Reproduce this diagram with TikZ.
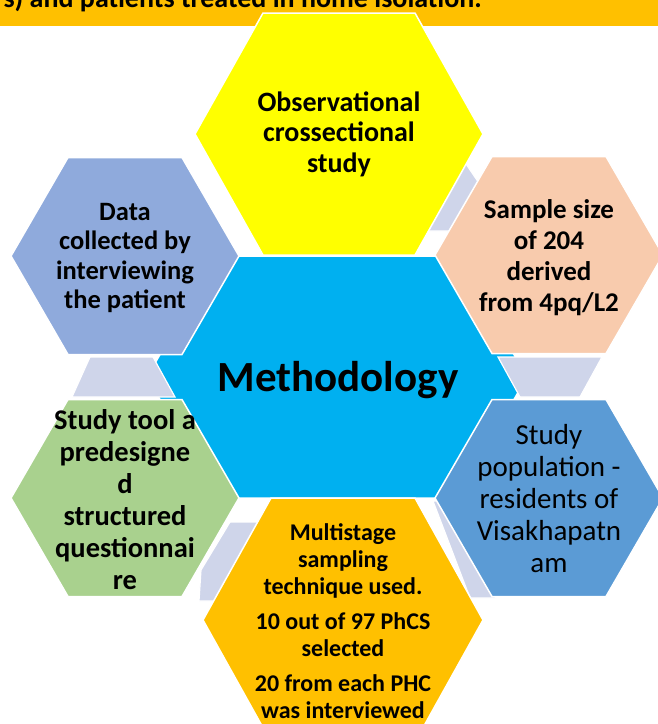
\documentclass[tikz,border=0pt]{standalone}
\usepackage{fontspec}
\setmainfont{Carlito}
\usetikzlibrary{calc}
\definecolor{hexYellow}{HTML}{FFFF00}
\definecolor{hexPeach}{HTML}{F8CBAD}
\definecolor{hexBlue}{HTML}{5B9BD5}
\definecolor{hexOrange}{HTML}{FFC000}
\definecolor{hexGreen}{HTML}{A9D18E}
\definecolor{hexGrey}{HTML}{8FAADC}
\definecolor{hexCyan}{HTML}{00B0F0}
\definecolor{linkLav}{HTML}{CFD5EA}

\begin{document}
\begin{tikzpicture}[x=1pt, y=-1pt,
    hexa/.style={draw=white, line width=1.5pt},
    link/.style={fill=linkLav, draw=white, line width=1.2pt},
    lbl/.style={align=center, inner sep=0pt, font=\bfseries\fontsize{27}{31}\selectfont}]
  \useasboundingbox (0,0) rectangle (658,724);
  \clip (0,0) rectangle (658,724);

  % centres of the hexagons
  \coordinate (M) at (337,377);
  \coordinate (O) at (339,134);
  \coordinate (B) at (343,620);
  \coordinate (D) at (125,256);
  \coordinate (T) at (125,498);
  \coordinate (S) at (549,255);
  \coordinate (P) at (549,498);

  % banner left over from the slide above
  \fill[hexOrange] (0,0) rectangle (658,26);
  \node[anchor=base east, inner sep=0pt, font=\bfseries\fontsize{28}{30}\selectfont] (head) at (482,7.5) {s) and patients treated in home isolation.};

  % central hexagon
  \filldraw[hexa, fill=hexCyan] (M) ++(-190,0) -- ++(70,-121) -- ++(240,0) -- ++(70,121) -- ++(-70,121) -- ++(-240,0) -- cycle;

  % connectors between the outer hexagons
  \filldraw[link] (464,161) -- (481,186) -- (452,231) -- (424,231) -- cycle;
  \filldraw[link] (498,357) -- (602,357) -- (580,397) -- (520,397) -- cycle;
  \filldraw[link] (90,357) -- (153,357) -- (175,397) -- (72,397) -- cycle;
  \filldraw[link] (230,522) -- (262,522) -- (217,601) -- (199,601) -- (201,570) -- cycle;
  \filldraw[link] (433,501) -- (447,501) -- (496,598) -- (470,598) -- cycle;

  % outer hexagons
  \filldraw[hexa, fill=hexYellow] (O) ++(-144,0) -- ++(68,-121) -- ++(152,0) -- ++(68,121) -- ++(-68,121) -- ++(-152,0) -- cycle;
  \filldraw[hexa, fill=hexOrange] (B) ++(-140,0) -- ++(68,-122) -- ++(144,0) -- ++(68,122) -- ++(-68,122) -- ++(-144,0) -- cycle;
  \foreach \c/\col in {D/hexGrey, T/hexGreen, S/hexPeach, P/hexBlue}
    \filldraw[hexa, fill=\col] (\c) ++(-114,0) -- ++(57,-98.5) -- ++(114,0) -- ++(57,98.5) -- ++(-57,98.5) -- ++(-114,0) -- cycle;

  % texts
  \node[lbl, font=\bfseries\fontsize{28}{30.5}\selectfont] (obs) at (O) {Observational\\crossectional\\study};
  \node[lbl] (smp) at ($(S)+(0,3)$) {Sample size\\of 204\\derived\\from 4pq/L2};
  \node[lbl, font=\bfseries\fontsize{26.5}{29.5}\selectfont] (dat) at ($(D)+(0,2)$) {Data\\collected by\\interviewing\\the patient};
  \node[lbl, font=\bfseries\fontsize{28.5}{32}\selectfont] (tool) at ($(T)+(0,2)$) {Study tool a\\predesigne\\d\\structured\\questionnai\\re};
  \node[lbl, font=\fontsize{29}{32}\selectfont] (pop) at ($(P)+(0,1)$) {Study\\population -\\residents of\\Visakhapatn\\am};
  \node[lbl, font=\bfseries\fontsize{43}{50}\selectfont] (meth) at ($(M)+(1,3)$) {Methodology};
  \node[lbl, font=\bfseries\fontsize{24}{27}\selectfont] (mst) at (343,621) {Multistage\\sampling\\technique used.\\[8pt]10 out of 97 PhCS\\selected\\[8pt]20 from each PHC\\was interviewed};
\end{tikzpicture}
\end{document}
